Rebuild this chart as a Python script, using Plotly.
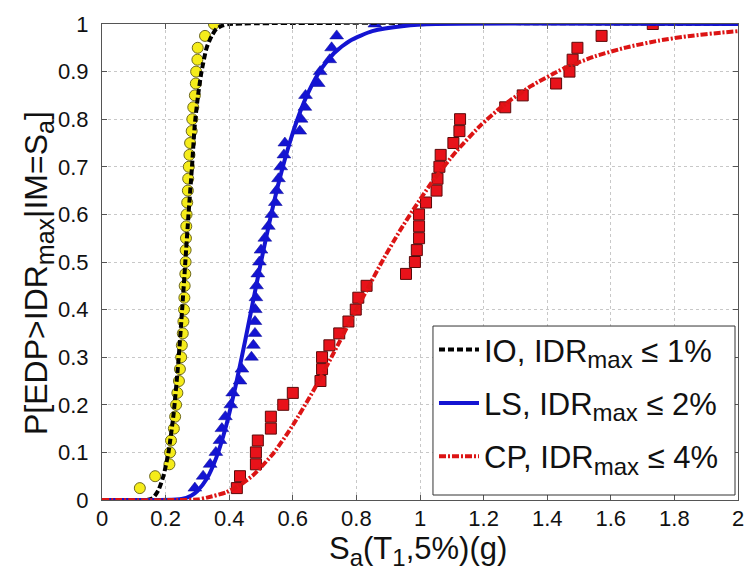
import plotly.graph_objects as go

# ---------------- data ----------------
# Empirical fragility points (40 records each)
prob_levels = [0.025, 0.05, 0.075, 0.10, 0.125, 0.15, 0.175, 0.20, 0.225, 0.25,
               0.275, 0.30, 0.325, 0.35, 0.375, 0.40, 0.425, 0.45, 0.475, 0.50,
               0.525, 0.55, 0.575, 0.60, 0.625, 0.65, 0.675, 0.70, 0.725, 0.75,
               0.775, 0.80, 0.825, 0.85, 0.875, 0.90, 0.925, 0.95, 0.975, 1.00]

io_sa = [0.119, 0.167, 0.212, 0.214, 0.217, 0.226, 0.230, 0.233, 0.237, 0.242,
         0.245, 0.249, 0.251, 0.254, 0.256, 0.258, 0.259, 0.260, 0.262, 0.263,
         0.263, 0.264, 0.265, 0.266, 0.268, 0.270, 0.271, 0.273, 0.275, 0.277,
         0.282, 0.284, 0.287, 0.292, 0.295, 0.296, 0.300, 0.301, 0.324, 0.352]

ls_sa = [0.292, 0.318, 0.340, 0.358, 0.371, 0.377, 0.388, 0.405, 0.411, 0.434,
         0.440, 0.470, 0.476, 0.481, 0.481, 0.482, 0.484, 0.486, 0.490, 0.495,
         0.500, 0.512, 0.523, 0.534, 0.545, 0.549, 0.555, 0.562, 0.572, 0.575,
         0.622, 0.626, 0.638, 0.640, 0.680, 0.686, 0.716, 0.722, 0.738, 0.858]

cp_sa = [0.424, 0.434, 0.484, 0.484, 0.490, 0.531, 0.531, 0.570, 0.600, 0.687,
         0.692, 0.692, 0.715, 0.746, 0.775, 0.798, 0.806, 0.832, 0.956, 0.984,
         0.990, 0.997, 0.997, 0.997, 1.019, 1.052, 1.055, 1.061, 1.065, 1.105,
         1.124, 1.126, 1.268, 1.323, 1.428, 1.470, 1.480, 1.495, 1.571, 1.732]

# Fitted fragility curves
io_curve_x = [0, 0.14, 0.16, 0.177, 0.193, 0.209, 0.225, 0.240, 0.252, 0.262, 0.272,
              0.283, 0.292, 0.303, 0.313, 0.329, 0.345, 0.36, 0.38, 0.40, 2.0]
io_curve_y = [0, 0, 0.004, 0.02, 0.05, 0.10, 0.18, 0.29, 0.40, 0.50, 0.60,
              0.70, 0.79, 0.855, 0.90, 0.95, 0.975, 0.99, 0.997, 1.0, 1.0]

ls_curve_x = [0, 0.25, 0.28, 0.30, 0.33, 0.36, 0.39, 0.42, 0.45, 0.48, 0.50, 0.53,
              0.56, 0.59, 0.62, 0.65, 0.69, 0.73, 0.78, 0.85, 0.95, 1.05, 2.0]
ls_curve_y = [0, 0.002, 0.009, 0.019, 0.045, 0.09, 0.155, 0.239, 0.334, 0.434, 0.50,
              0.594, 0.678, 0.75, 0.81, 0.858, 0.906, 0.939, 0.965, 0.985, 0.996, 1.0, 1.0]

cp_curve_x = [0, 0.30, 0.33, 0.39, 0.44, 0.48, 0.54, 0.60, 0.665, 0.727, 0.79, 0.832,
              0.88, 0.937, 0.979, 1.042, 1.115, 1.189, 1.262, 1.35, 1.45, 1.55,
              1.65, 1.75, 1.85, 1.95, 2.0]
cp_curve_y = [0, 0.001, 0.005, 0.016, 0.034, 0.055, 0.099, 0.157, 0.23, 0.307, 0.388,
              0.44, 0.50, 0.566, 0.61, 0.672, 0.733, 0.786, 0.829, 0.87, 0.906, 0.932,
              0.951, 0.965, 0.975, 0.982, 0.985]

x_ticks = [0, 0.2, 0.4, 0.6, 0.8, 1, 1.2, 1.4, 1.6, 1.8, 2]
x_tick_labels = ["0", "0.2", "0.4", "0.6", "0.8", "1", "1.2", "1.4", "1.6", "1.8", "2"]
y_ticks = [0, 0.1, 0.2, 0.3, 0.4, 0.5, 0.6, 0.7, 0.8, 0.9, 1]
y_tick_labels = ["0", "0.1", "0.2", "0.3", "0.4", "0.5", "0.6", "0.7", "0.8", "0.9", "1"]


def sub(txt, px):
    return "<sub><span style='font-size:%dpx'>%s</span></sub>" % (px, txt)


legend_names = ["IO, IDR" + sub("max", 24) + " \u2264 1%",
                "LS, IDR" + sub("max", 24) + " \u2264 2%",
                "CP, IDR" + sub("max", 24) + " \u2264 4%"]
x_title = "S" + sub("a", 24) + "(T" + sub("1", 24) + ",5%)(g)"
y_title = "P[EDP>IDR" + sub("max", 25) + "|IM=S" + sub("a", 25) + "]"

# ---------------- figure ----------------
BLACK = "#000000"
BLUE = "#1414d2"
RED = "#dc1414"
FONT = "Liberation Sans, Arial, sans-serif"
TXT = "#111111"

fig = go.Figure()

# markers
fig.add_trace(go.Scatter(x=io_sa, y=prob_levels, mode="markers", showlegend=False,
                         marker=dict(symbol="circle", size=11, color="#f5ec1a",
                                     line=dict(color="#6f6a20", width=1))))
fig.add_trace(go.Scatter(x=ls_sa, y=prob_levels, mode="markers", showlegend=False,
                         marker=dict(symbol="triangle-up", size=12, color=BLUE,
                                     line=dict(color="#0a0a90", width=0.5))))
fig.add_trace(go.Scatter(x=cp_sa, y=prob_levels, mode="markers", showlegend=False,
                         marker=dict(symbol="square", size=11, color="#e8121a",
                                     line=dict(color="#5a0a0a", width=1))))

# curves
fig.add_trace(go.Scatter(x=io_curve_x, y=io_curve_y, mode="lines", name=legend_names[0],
                         legendgroup="io",
                         line=dict(color=BLACK, width=4, dash="6px,3px", shape="spline",
                                   smoothing=0.6)))
fig.add_trace(go.Scatter(x=ls_curve_x, y=ls_curve_y, mode="lines", name=legend_names[1],
                         legendgroup="ls",
                         line=dict(color=BLUE, width=4, shape="spline", smoothing=0.6)))
fig.add_trace(go.Scatter(x=cp_curve_x, y=cp_curve_y, mode="lines", name=legend_names[2],
                         legendgroup="cp",
                         line=dict(color=RED, width=4, dash="7px,2px,2px,2px",
                                   shape="spline", smoothing=0.6)))

axis_common = dict(showline=True, linecolor="#555555", linewidth=1, mirror="ticks",
                   ticks="inside", ticklen=5, tickcolor="#555555", automargin=False,
                   ticklabeloverflow="allow",
                   showgrid=True, gridcolor="#c8c8c8", griddash="dot", gridwidth=1,
                   zeroline=False, tickfont=dict(size=22, color=TXT, family=FONT))

fig.update_xaxes(range=[0, 2], tickvals=x_ticks, ticktext=x_tick_labels,
                 ticklabelstandoff=-1, **axis_common)
fig.update_yaxes(range=[0, 1], tickvals=y_ticks, ticktext=y_tick_labels,
                 ticklabelstandoff=8, **axis_common)

# axis titles
fig.add_annotation(text=x_title, xref="paper", yref="paper", x=0.497, y=-0.108,
                   xanchor="center", yanchor="middle", showarrow=False, borderpad=0,
                   font=dict(size=31, color=TXT, family=FONT))
fig.add_annotation(text=y_title, xref="paper", yref="paper", x=-0.099, y=0.477,
                   xanchor="center", yanchor="middle", showarrow=False, textangle=-90,
                   font=dict(size=32, color=TXT, family=FONT))

# legend frame
fig.add_shape(type="rect", xref="paper", yref="paper",
              x0=0.5204, x1=0.9953, y0=0.0105, y1=0.3655,
              fillcolor="white", line=dict(color="#333333", width=1), layer="above")

fig.update_layout(
    width=747, height=572,
    margin=dict(l=102, r=9, t=24, b=72),
    paper_bgcolor="white", plot_bgcolor="white",
    font=dict(family=FONT, color=TXT),
    legend=dict(x=0.522, y=0.372, xanchor="left", yanchor="top",
                bgcolor="rgba(0,0,0,0)", borderwidth=0,
                font=dict(size=31, family=FONT, color=TXT),
                traceorder="grouped", tracegroupgap=10, itemwidth=40),
    showlegend=True,
)

fig.write_html("out.html", config={"displayModeBar": False},
               post_script="document.body.style.margin='0px';"
                           "document.body.style.overflow='hidden';")
